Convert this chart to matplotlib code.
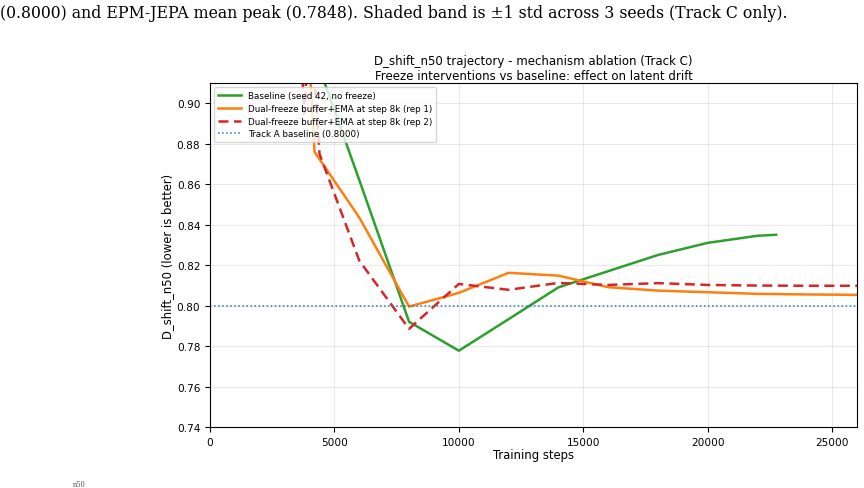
import matplotlib
matplotlib.use("Agg")
import matplotlib.pyplot as plt

# ---- data ----
base_steps = [4000, 6000, 8000, 10000, 12000, 14000, 16000, 18000, 20000, 22000, 22750]
base_vals = [0.931, 0.862, 0.792, 0.7777, 0.7933, 0.809, 0.817, 0.825, 0.831, 0.8345, 0.835]

rep1_steps = [4000, 4200, 6000, 8000, 10000, 12000, 14000, 16000, 18000, 20000, 22000, 24000, 26000, 28000]
rep1_vals = [0.921, 0.876, 0.8435, 0.7995, 0.8063, 0.8162, 0.8148, 0.8091, 0.8074, 0.8066, 0.8058, 0.8055, 0.8053, 0.8052]

rep2_steps = [3600, 3800, 4000, 4400, 6000, 8000, 10000, 12000, 14000, 16000, 18000, 20000, 22000, 24000, 26000, 28000]
rep2_vals = [0.935, 0.895, 0.95, 0.875, 0.8222, 0.7885, 0.8107, 0.8078, 0.8112, 0.8102, 0.8111, 0.8102, 0.8099, 0.8098, 0.8098, 0.8098]

track_a_baseline = 0.8000

labels = ["Baseline (seed 42, no freeze)",
          "Dual-freeze buffer+EMA at step 8k (rep 1)",
          "Dual-freeze buffer+EMA at step 8k (rep 2)",
          "Track A baseline (0.8000)"]

title = "D_shift_n50 trajectory - mechanism ablation (Track C)\nFreeze interventions vs baseline: effect on latent drift"
caption = "(0.8000) and EPM-JEPA mean peak (0.7848). Shaded band is \u00b11 std across 3 seeds (Track C only)."

# ---- figure ----
fig = plt.figure(figsize=(8.64, 4.89), dpi=100)
ax = fig.add_axes([210 / 864, 61 / 489, 647 / 864, 344 / 489])

ax.plot(base_steps, base_vals, color="tab:green", lw=1.8, label=labels[0])
ax.plot(rep1_steps, rep1_vals, color="tab:orange", lw=1.8, label=labels[1])
ax.plot(rep2_steps, rep2_vals, color="tab:red", lw=1.8, ls=(0, (4, 2.2)), label=labels[2])
ax.axhline(track_a_baseline, color="tab:blue", lw=1.1, ls=":", label=labels[3])

ax.set_xlim(0, 26000)
ax.set_ylim(0.74, 0.91)
ax.set_yticks([0.74, 0.76, 0.78, 0.80, 0.82, 0.84, 0.86, 0.88, 0.90])
ax.tick_params(labelsize=7.6, length=3.5, width=0.8)
ax.grid(True, color="#cccccc", alpha=0.45, lw=0.8)
ax.set_xlabel("Training steps", fontsize=8.4, labelpad=1)
ax.set_ylabel("D_shift_n50 (lower is better)", fontsize=8.4, labelpad=2)
ax.set_title(title, fontsize=8.5, pad=3, linespacing=1.15)
ax.legend(loc="upper left", fontsize=6.3, handlelength=2.6, borderpad=0.45, labelspacing=0.42)

fig.text(0.0, 0.99, caption, family="DejaVu Serif", fontsize=11.3, va="top", ha="left")
fig.text(0.084, 0.001, "n50", family="Liberation Serif", fontsize=6, va="bottom", ha="left", color="#555555")

fig.savefig("out.png", dpi=100)
